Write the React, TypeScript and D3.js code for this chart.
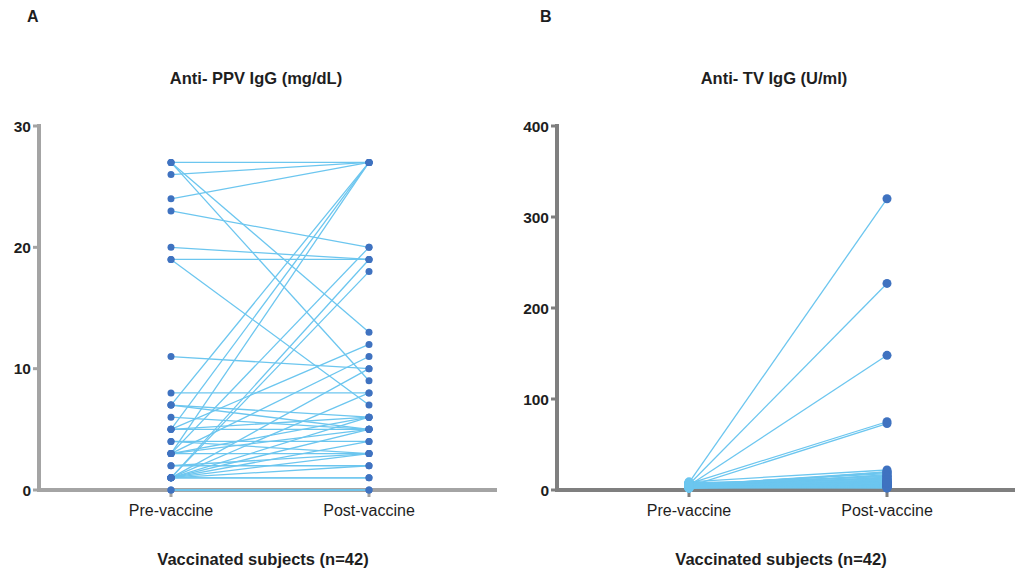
import React from 'react';
import * as d3 from 'd3';

// Panel A: anti-PPV IgG (mg/dL), paired pre/post values for 42 subjects
const preA = [27, 27, 27, 26, 24, 23, 20, 19, 19, 11, 8, 7, 7, 7, 6, 5, 5, 5, 5, 4, 4, 3, 3, 3, 3, 3, 3, 2, 2, 1, 1, 1, 1, 1, 1, 1, 1, 1, 1, 1, 0, 0];
const postA = [27, 13, 9, 27, 27, 20, 19, 19, 7, 10, 8, 27, 6, 5, 5, 27, 12, 6, 5, 4, 3, 27, 20, 11, 6, 3, 5, 3, 2, 19, 18, 10, 8, 6, 5, 4, 3, 2, 1, 1, 0, 0];
const ticksA = [0, 10, 20, 30];

// Panel B: anti-TV IgG (U/ml)
const preB = [8, 6, 5, 7, 4, 9, 3, 5, 6, 2, 4, 7, 3, 5, 8, 6, 4, 2, 5, 3, 6, 7, 4, 5, 3, 2, 6, 4, 5, 7, 3, 4, 6, 5, 2, 8, 4, 3, 5, 6, 4, 5];
const postB = [320, 227, 148, 75, 73, 22, 20, 19, 18, 17, 16, 15, 14, 13, 12, 12, 11, 10, 10, 9, 9, 8, 8, 7, 7, 6, 6, 6, 5, 5, 5, 4, 4, 4, 3, 3, 3, 2, 20, 15, 11, 8];
const ticksB = [0, 100, 200, 300, 400];

const groups = ['Pre-vaccine', 'Post-vaccine'];

const LINE = '#6cc6ef';
const DOT = '#3f72c0';
const INK = '#1e1e1e';
const FONT = '"Liberation Sans", Arial, sans-serif';

const Panel = ({ x0, letter, letterX, title, pre, post, ticks, max, axisColor, r, preDot }) => {
  const y = d3.scaleLinear().domain([0, max]).range([490, 126]);
  const x = d3.scalePoint().domain(groups).range([x0 + 132, x0 + 330]);
  const xEnd = x0 + 458;
  const pairs = pre.map((v, i) => [v, post[i]]);
  const line = d3.line().x((d, i) => x(groups[i])).y(d => y(d));

  return (
    <g fontFamily={FONT}>
      <text x={letterX} y={22} fontSize={16} fontWeight="bold" fill={INK}>{letter}</text>
      <text x={x0 + 217} y={84} fontSize={16.5} fontWeight="bold" fill={INK} textAnchor="middle">{title}</text>

      {/* y axis */}
      <line x1={x0} x2={x0} y1={y(max) - 2} y2={y(0)} stroke={axisColor} strokeWidth={4} />
      {ticks.map(t => (
        <g key={t}>
          <line x1={x0 - 6} x2={x0} y1={y(t)} y2={y(t)} stroke={axisColor} strokeWidth={3} />
          <text x={x0 - 8} y={y(t) + 5.5} fontSize={15.5} fontWeight="bold" fill={INK} textAnchor="end">{t}</text>
        </g>
      ))}

      {/* x axis */}
      <line x1={x0 - 2} x2={xEnd} y1={y(0)} y2={y(0)} stroke={axisColor} strokeWidth={4} />
      {groups.map(g => (
        <g key={g}>
          <line x1={x(g)} x2={x(g)} y1={y(0)} y2={y(0) + 7} stroke={axisColor} strokeWidth={3} />
          <text x={x(g)} y={516} fontSize={16} fill={INK} textAnchor="middle">{g}</text>
        </g>
      ))}
      <text x={x0 + 224} y={565} fontSize={16.5} fontWeight="bold" fill={INK} textAnchor="middle">Vaccinated subjects (n=42)</text>

      {/* paired lines */}
      {pairs.map((p, i) => (
        <path key={i} d={line(p)} fill="none" stroke={LINE} strokeWidth={1.3} />
      ))}
      {pairs.map((p, i) => (
        <g key={'d' + i}>
          <circle cx={x(groups[0])} cy={y(p[0])} r={r} fill={preDot} />
          <circle cx={x(groups[1])} cy={y(p[1])} r={r} fill={DOT} />
        </g>
      ))}
    </g>
  );
};

export default function App() {
  return (
    <div style={{ position: 'absolute', left: 0, top: 0 }}>
      <svg width={1020} height={569} style={{ display: 'block', background: '#fff' }}>
        <Panel x0={39} letter="A" letterX={27} title="Anti- PPV IgG (mg/dL)" pre={preA} post={postA}
          ticks={ticksA} max={30} axisColor="#a4a4a4" r={3.5} preDot={DOT} />
        <Panel x0={557} letter="B" letterX={540} title="Anti- TV IgG (U/ml)" pre={preB} post={postB}
          ticks={ticksB} max={400} axisColor="#7f7f7f" r={4.5} preDot={LINE} />
      </svg>
    </div>
  );
}
